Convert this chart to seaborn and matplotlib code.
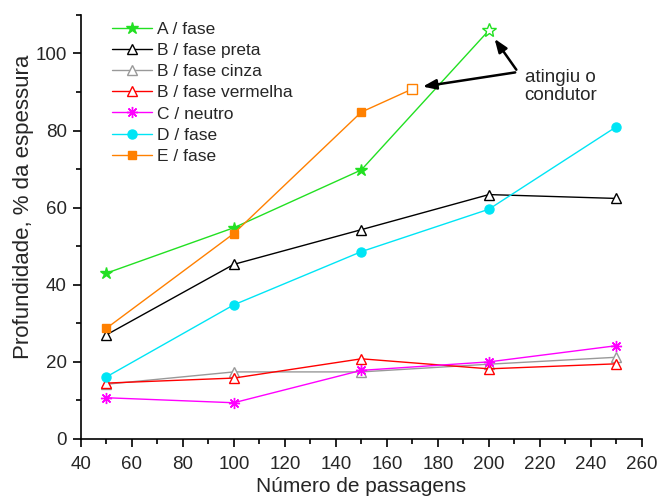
import matplotlib
matplotlib.use("Agg")
import matplotlib.pyplot as plt
import seaborn as sns
import pandas as pd
from matplotlib.ticker import MultipleLocator

sns.set_style("ticks")
plt.rcParams['font.family'] = ['Liberation Sans', 'DejaVu Sans']

x_A = [50, 100, 150, 200]
y_A = [43.0, 54.8, 69.8, 106.0]
x_B = [50, 100, 150, 200, 250]
y_Bp = [27.0, 45.3, 54.3, 63.4, 62.4]
y_Bc = [14.2, 17.4, 17.4, 19.4, 21.2]
y_Bv = [14.5, 15.8, 20.8, 18.2, 19.5]
y_C = [10.7, 9.4, 17.8, 20.0, 24.2]
y_D = [16.1, 34.8, 48.6, 59.6, 81.0]
x_E = [50, 100, 150, 170]
y_E = [28.7, 53.3, 84.8, 90.8]

series = [
    ("A / fase", x_A, y_A, "#22e022", "*", True, 9, True),
    ("B / fase preta", x_B, y_Bp, "black", "^", False, 7.5, False),
    ("B / fase cinza", x_B, y_Bc, "#999999", "^", False, 7.5, False),
    ("B / fase vermelha", x_B, y_Bv, "red", "^", False, 7.5, False),
    ("C / neutro", x_B, y_C, "#ff00ff", (8, 2, 0), True, 8, False),
    ("D / fase", x_B, y_D, "#00e5f5", "o", True, 6.5, False),
    ("E / fase", x_E, y_E, "#ff8000", "s", True, 5.5, True),
]

fig = plt.figure(figsize=(6.57, 4.98), dpi=100)
ax = fig.add_axes([0.123, 0.1185, 0.854, 0.8515])

for name, xs, ys, col, mk, filled, ms, hollow_last in series:
    df = pd.DataFrame({"x": xs, "y": ys})
    fc = col if filled else "white"
    sns.lineplot(data=df, x="x", y="y", ax=ax, color=col, lw=1.0, label=name,
                 marker=mk, markersize=ms, markerfacecolor=fc, markeredgecolor=col,
                 markeredgewidth=1.0, markevery=list(range(len(xs) - 1)) if hollow_last else None)
    if hollow_last:
        sns.lineplot(data=df.iloc[-1:], x="x", y="y", ax=ax, color=col, lw=0,
                     marker=mk, markersize=ms + 1, markerfacecolor="white",
                     markeredgecolor=col, markeredgewidth=1.0, legend=False)

ax.set_xlim(40, 260)
ax.set_ylim(0, 110)
ax.xaxis.set_major_locator(MultipleLocator(20))
ax.xaxis.set_minor_locator(MultipleLocator(10))
ax.yaxis.set_major_locator(MultipleLocator(20))
ax.yaxis.set_minor_locator(MultipleLocator(10))
ax.tick_params(axis='both', which='major', labelsize=13.5, length=6, width=1.2, direction='out',
               color='black', pad=4)
ax.tick_params(axis='x', which='major', pad=6)
ax.tick_params(axis='both', which='minor', length=3.5, width=1.2, direction='out', color='black')
for s in ['top', 'right']:
    ax.spines[s].set_visible(False)
for s in ['left', 'bottom']:
    ax.spines[s].set_linewidth(1.2)
    ax.spines[s].set_color('black')
ax.set_yticks([0, 20, 40, 60, 80, 100])
ax.set_xlabel("Número de passagens", fontsize=15, labelpad=3)
ax.set_ylabel("Profundidade, % da espessura", fontsize=16)
ax.yaxis.set_label_coords(-0.083, 0.547)

ax.annotate("", xy=(201.6, 104.4), xytext=(211.4, 95.2),
            arrowprops=dict(arrowstyle="-|>,head_length=0.8,head_width=0.3", color="black", lw=1.8))
ax.annotate("", xy=(173, 91.3), xytext=(211.4, 95.2),
            arrowprops=dict(arrowstyle="-|>,head_length=0.8,head_width=0.3", color="black", lw=1.8))
ax.text(214, 91.5, "atingiu o\ncondutor", fontsize=13.5, va="center", ha="left", linespacing=1.1)

leg = ax.legend(loc="upper left", bbox_to_anchor=(0.043, 1.001), frameon=False, fontsize=12.5,
                handlelength=2.3, labelspacing=0.35, handletextpad=0.3, borderaxespad=0)

fig.savefig("out.png", dpi=100)
